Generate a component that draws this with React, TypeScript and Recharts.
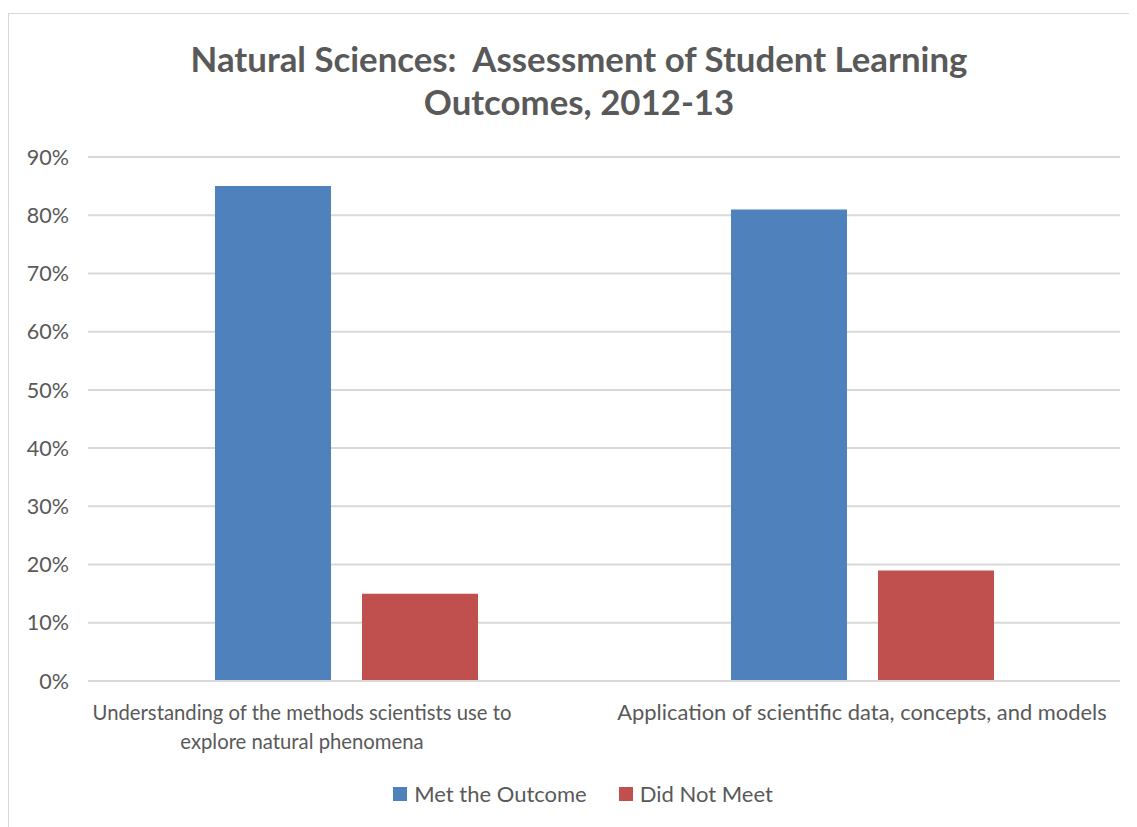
import { BarChart, Bar, XAxis, YAxis, CartesianGrid, Legend } from "recharts";

const categories = [
  "Understanding of the methods scientists use to\nexplore natural phenomena",
  "Application of scientific data, concepts, and models",
];
const metOutcome = [85, 81];
const didNotMeet = [15, 19];
const yTicks = [0, 10, 20, 30, 40, 50, 60, 70, 80, 90];

const seriesNames = { met: "Met the Outcome", notMet: "Did Not Meet" };
const colors = { met: "#4f81bd", notMet: "#c0504d" };

const FONT = "Lato, 'Noto Sans', sans-serif";
const TEXT = "#595959";

// Excel pulled the wrapped first label a little to the left
const labelShift = [-44, 0];
const labelSize = [20.3, 21.9];

const data = categories.map((name, i) => ({
  name,
  met: metOutcome[i],
  notMet: didNotMeet[i],
}));

function CategoryTick({ x, y, payload, index }: any) {
  const lines = String(payload.value).split("\n");
  const cx = x + (labelShift[index] || 0);
  return (
    <text
      x={cx}
      y={y}
      textAnchor="middle"
      fill={TEXT}
      fontSize={labelSize[index] || 20}
      fontFamily={FONT}
    >
      {lines.map((line, i) => (
        <tspan key={i} x={cx} dy={i === 0 ? 31 : 29}>
          {line}
        </tspan>
      ))}
    </text>
  );
}

function LegendContent() {
  const items = [
    { label: seriesNames.met, color: colors.met },
    { label: seriesNames.notMet, color: colors.notMet },
  ];
  return (
    <div
      style={{
        display: "flex",
        justifyContent: "center",
        alignItems: "center",
        gap: 32,
        fontFamily: FONT,
        fontSize: 22,
        color: TEXT,
      }}
    >
      {items.map((it) => (
        <div key={it.label} style={{ display: "flex", alignItems: "center" }}>
          <span
            style={{
              width: 14,
              height: 14,
              background: it.color,
              display: "inline-block",
              marginRight: 7,
            }}
          />
          <span>{it.label}</span>
        </div>
      ))}
    </div>
  );
}

export default function App() {
  return (
    <div style={{ position: "relative", width: 1129, height: 819 }}>
      <div
        style={{
          position: "absolute",
          left: 0,
          top: 5,
          width: 1200,
          height: 900,
          borderLeft: "1px solid #d9d9d9",
          borderTop: "1px solid #d9d9d9",
        }}
      />
      <div
        style={{
          position: "absolute",
          left: 71,
          width: 1000,
          top: 29,
          textAlign: "center",
          fontFamily: FONT,
          fontWeight: 700,
          fontSize: 34.8,
          lineHeight: "43px",
          color: TEXT,
        }}
      >
        Natural Sciences:&nbsp; Assessment of Student Learning
        <br />
        Outcomes, 2012-13
      </div>
      <BarChart
        width={1129}
        height={819}
        data={data}
        margin={{ top: 149, right: 17, bottom: 0, left: 0 }}
        barSize={116}
        barGap={31}
        style={{ position: "absolute", left: 0, top: 0 }}
      >
        <CartesianGrid
          vertical={false}
          stroke="#d9d9d9"
          strokeWidth={2}
        />
        <XAxis
          dataKey="name"
          height={146}
          axisLine={{ stroke: "#d9d9d9", strokeWidth: 2 }}
          tickLine={false}
          tick={<CategoryTick />}
          interval={0}
        />
        <YAxis
          width={80}
          domain={[0, 90]}
          ticks={yTicks}
          tickFormatter={(v) => `${v}%`}
          axisLine={false}
          tickLine={false}
          tickMargin={13}
          tick={{ fill: TEXT, fontSize: 21.5, fontFamily: FONT }}
        />
        <Legend
          verticalAlign="middle"
          align="center"
          content={<LegendContent />}
          wrapperStyle={{ top: 772, left: 175, width: 800 }}
        />
        <Bar
          dataKey="met"
          name={seriesNames.met}
          fill={colors.met}
          isAnimationActive={false}
        />
        <Bar
          dataKey="notMet"
          name={seriesNames.notMet}
          fill={colors.notMet}
          isAnimationActive={false}
        />
      </BarChart>
    </div>
  );
}
